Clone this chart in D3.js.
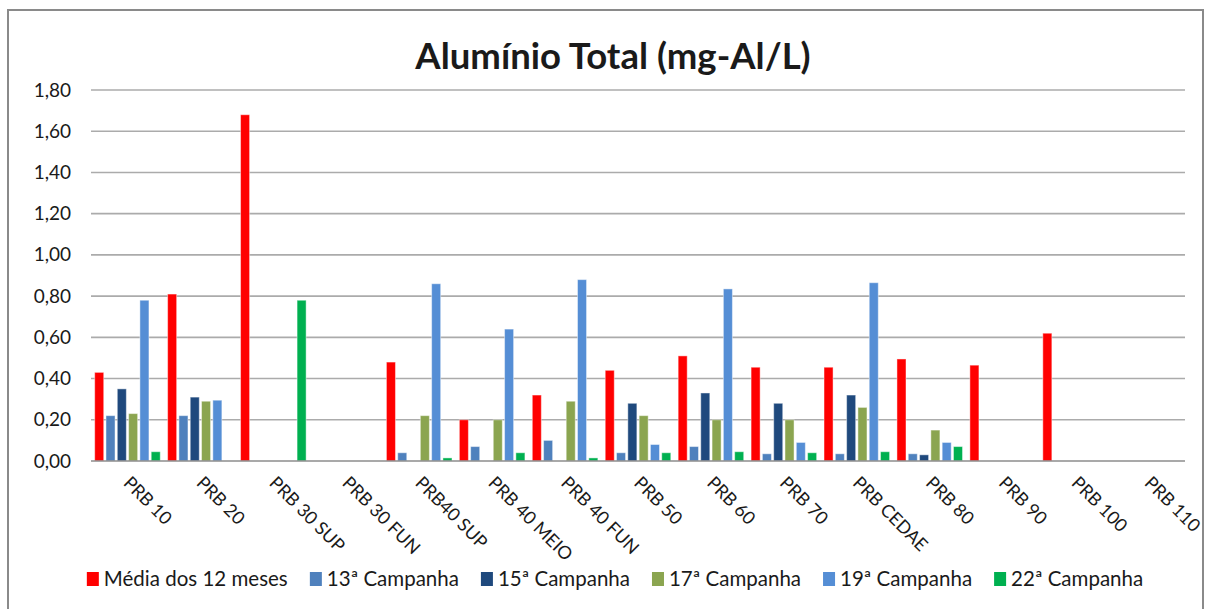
<!DOCTYPE html>
<html>
<head>
<meta charset="utf-8">
<script src="https://cdn.jsdelivr.net/npm/d3@7"></script>
<style>
  html, body { margin: 0; padding: 0; background: #fff; }
  svg { display: block; }
  text { font-family: Lato, "Noto Sans", sans-serif; fill: #1a1a1a; }
</style>
</head>
<body>
<svg id="chart" width="1208" height="609"></svg>
<script>
// Sampling stations along the river
const stations = ["PRB 10", "PRB 20", "PRB 30 SUP", "PRB 30 FUN", "PRB40 SUP", "PRB 40 MEIO",
  "PRB 40 FUN", "PRB 50", "PRB 60", "PRB 70", "PRB CEDAE", "PRB 80", "PRB 90", "PRB 100", "PRB 110"];

// Total aluminium (mg-Al/L) per campaign; null = no measurement
const media12   = [0.43, 0.81, 1.68, null, 0.48, 0.20, 0.32, 0.44, 0.51, 0.455, 0.455, 0.495, 0.465, 0.62, null];
const camp13    = [0.22, 0.22, null, null, 0.04, 0.07, 0.10, 0.04, 0.07, 0.035, 0.035, 0.035, null, null, null];
const camp15    = [0.35, 0.31, null, null, null, null, null, 0.28, 0.33, 0.28, 0.32, 0.03, null, null, null];
const camp17    = [0.23, 0.29, null, null, 0.22, 0.20, 0.29, 0.22, 0.20, 0.20, 0.26, 0.15, null, null, null];
const camp19    = [0.78, 0.295, null, null, 0.86, 0.64, 0.88, 0.08, 0.835, 0.09, 0.865, 0.09, null, null, null];
const camp22    = [0.045, null, 0.78, null, 0.015, 0.04, 0.015, 0.04, 0.045, 0.04, 0.045, 0.07, null, null, null];

const seriesNames  = ["Média dos 12 meses", "13ª Campanha", "15ª Campanha", "17ª Campanha", "19ª Campanha", "22ª Campanha"];
const seriesValues = [media12, camp13, camp15, camp17, camp19, camp22];
const seriesColors = ["#ff0000", "#4f81bd", "#1f497d", "#8ba550", "#558ed5", "#00b050"];

const yTicks = [0, 0.2, 0.4, 0.6, 0.8, 1.0, 1.2, 1.4, 1.6, 1.8];
const title = "Alumínio Total (mg-Al/L)";

const svg = d3.select("#chart");

// chart frame
svg.append("rect")
  .attr("x", 8).attr("y", 10).attr("width", 1195).attr("height", 620)
  .attr("fill", "#fff").attr("stroke", "#8a8a8a").attr("stroke-width", 2);

const plot = { left: 91, right: 1185, top: 90, bottom: 461 };

const x0 = d3.scaleBand().domain(stations)
  .range([plot.left, plot.right]).paddingInner(0.07).paddingOuter(0.035);
const x1 = d3.scaleBand().domain(d3.range(seriesNames.length))
  .range([0, x0.bandwidth()]).paddingInner(0.2).paddingOuter(0.1);
const y = d3.scaleLinear().domain([0, 1.8]).range([plot.bottom, plot.top]);

const fmt = v => d3.format(".2f")(v).replace(".", ",");

// gridlines
svg.append("g")
  .selectAll("line").data(yTicks.filter(t => t > 0)).join("line")
  .attr("x1", plot.left).attr("x2", plot.right)
  .attr("y1", d => y(d)).attr("y2", d => y(d))
  .attr("stroke", "#ababab").attr("stroke-width", 1.6);

// y axis labels
const yAxis = svg.append("g").attr("transform", `translate(${plot.left},0)`)
  .call(d3.axisLeft(y).tickValues(yTicks).tickFormat(fmt).tickSize(0).tickPadding(20));
yAxis.select(".domain").remove();
yAxis.selectAll("text")
  .style("font-family", "Lato, 'Noto Sans', sans-serif")
  .style("font-size", "19px").attr("fill", "#1a1a1a");

// bars
const groups = svg.append("g").selectAll("g").data(stations).join("g")
  .attr("transform", d => `translate(${x0(d)},0)`);

groups.selectAll("rect")
  .data((d, i) => seriesValues.map((vals, s) => ({ s, v: vals[i] })).filter(e => e.v != null))
  .join("rect")
  .attr("x", d => x1(d.s))
  .attr("width", x1.bandwidth())
  .attr("y", d => y(d.v))
  .attr("height", d => y(0) - y(d.v))
  .attr("fill", d => seriesColors[d.s])
  .attr("stroke", "rgba(255,255,255,0.45)").attr("stroke-width", 1);

// baseline
svg.append("line")
  .attr("x1", plot.left).attr("x2", plot.right)
  .attr("y1", y(0)).attr("y2", y(0))
  .attr("stroke", "#8c8c8c").attr("stroke-width", 1.6);

// category labels, rotated
const xAxis = svg.append("g").attr("transform", `translate(0,${plot.bottom})`)
  .call(d3.axisBottom(x0).tickSize(0).tickPadding(0));
xAxis.select(".domain").remove();
xAxis.selectAll("text")
  .style("font-family", "Lato, 'Noto Sans', sans-serif")
  .style("font-size", "18px").attr("fill", "#1a1a1a")
  .attr("text-anchor", "start")
  .attr("dy", 0).attr("y", 0)
  .attr("transform", "translate(-5,23) rotate(45)");

// title
svg.append("text")
  .attr("x", 613).attr("y", 69)
  .attr("text-anchor", "middle")
  .style("font-size", "36.5px").style("font-weight", "bold")
  .text(title);

// legend
const legend = svg.append("g");
const items = legend.selectAll("g").data(seriesNames).join("g");
items.append("rect").attr("width", 12).attr("height", 14).attr("y", -14)
  .attr("fill", (d, i) => seriesColors[i]);
items.append("text").attr("x", 17).attr("y", 0)
  .style("font-size", "20.5px").text(d => d);
let cursor = 0;
const positions = [];
items.each(function () {
  positions.push(cursor);
  cursor += this.getBBox().width + 22;
});
const total = cursor - 22;
const startX = 615 - total / 2;
items.attr("transform", (d, i) => `translate(${startX + positions[i]},586)`);
</script>
</body>
</html>
